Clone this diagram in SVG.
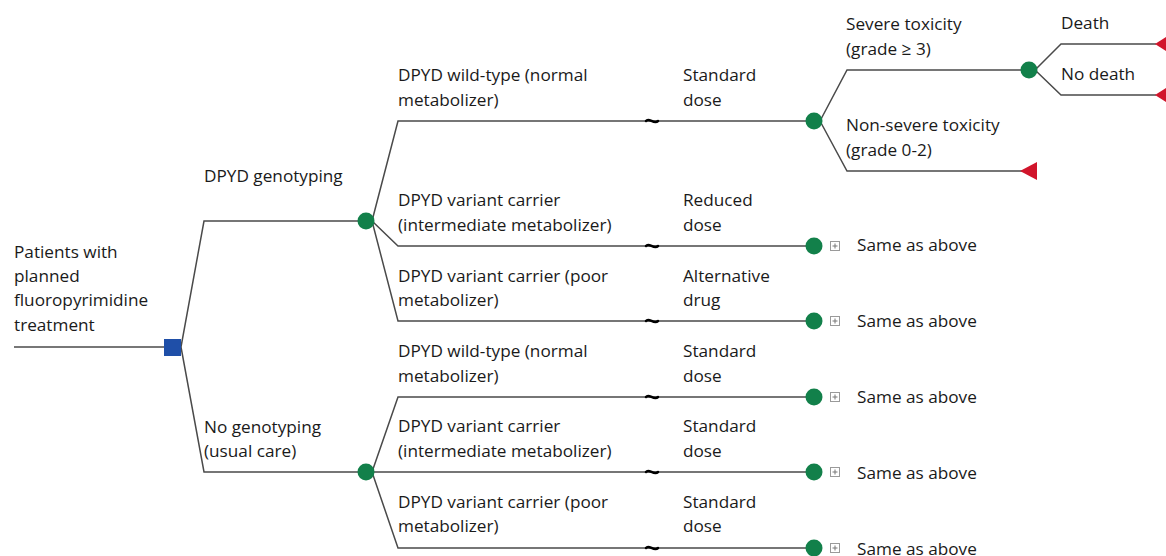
<svg xmlns="http://www.w3.org/2000/svg" width="1166" height="556" viewBox="0 0 1166 556">
<style>
.l{fill:none;stroke:#4a4a4a;stroke-width:1.5}
.c{fill:#12804a}
.t{fill:#d1152b}
.pb{fill:#fff;stroke:#9a9a9a;stroke-width:1}
.pl{stroke:#777;stroke-width:1}
text{font-family:"Open Sans","Noto Sans",sans-serif;font-size:17.2px;fill:#1a1a1a}
</style>
<defs>
<g id="plus"><rect class="pb" x="-4.5" y="-4.5" width="9" height="9"/><path class="pl" d="M-2.5,0H2.5M0,-2.5V2.5"/></g>
</defs>
<g id="connectors">
<path class="l" d="M14,347H164"/>
<path class="l" d="M181,347L204,221H360M181,347L204,472H360"/>
<path class="l" d="M372,221L398,121H808M372,221L398,246H808M372,221L398,321H808"/>
<path class="l" d="M372,472L398,397H808M372,472L398,472H808M372,472L398,548H808"/>
<path class="l" d="M820,121L847,70H1023M820,121L847,171H1022"/>
<path class="l" d="M1035,70L1061,44H1156M1035,70L1061,95H1156"/>
<g fill="none" stroke="#000" stroke-width="2.5" stroke-linecap="round">
<path d="M646,121 C649,117 654,125 658,121"/>
<path d="M646,246 C649,242 654,250 658,246"/>
<path d="M646,321 C649,317 654,325 658,321"/>
<path d="M646,397 C649,393 654,401 658,397"/>
<path d="M646,472 C649,468 654,476 658,472"/>
<path d="M646,548 C649,544 654,552 658,548"/>
</g>
</g>
<g id="root"><rect x="164" y="339" width="17" height="17" fill="#1f4fa8"/>
<text x="14" y="258">Patients with</text><text x="14" y="282">planned</text><text x="14" y="306">fluoropyrimidine</text><text x="14" y="331">treatment</text></g>
<g id="geno"><circle class="c" cx="366" cy="221" r="8.5"/><text x="204" y="182">DPYD genotyping</text></g>
<g id="nogeno"><circle class="c" cx="366" cy="472" r="8.5"/><text x="204" y="433">No genotyping</text><text x="204" y="457">(usual care)</text></g>
<g id="g1"><circle class="c" cx="814" cy="121" r="8.5"/><text x="398" y="81">DPYD wild-type (normal</text><text x="398" y="106">metabolizer)</text><text x="683" y="81">Standard</text><text x="683" y="106">dose</text></g>
<g id="tox"><circle class="c" cx="1029" cy="70" r="8.5"/><text x="846" y="30">Severe toxicity</text><text x="846" y="55">(grade ≥ 3)</text></g>
<g id="death"><path class="t" d="M1166,37V51L1155,44Z"/><text x="1061" y="29">Death</text></g>
<g id="nodeath"><path class="t" d="M1166,88V102L1155,95Z"/><text x="1061" y="80">No death</text></g>
<g id="nonsev"><path class="t" d="M1037,162V180L1020,171Z"/><text x="846" y="131">Non-severe toxicity</text><text x="846" y="156">(grade 0-2)</text></g>
<g id="g2"><circle class="c" cx="814" cy="246" r="8.5"/><use href="#plus" x="835" y="246"/><text x="398" y="206">DPYD variant carrier</text><text x="398" y="231">(intermediate metabolizer)</text><text x="683" y="206">Reduced</text><text x="683" y="231">dose</text><text x="857" y="251">Same as above</text></g>
<g id="g3"><circle class="c" cx="814" cy="321" r="8.5"/><use href="#plus" x="835" y="321"/><text x="398" y="282">DPYD variant carrier (poor</text><text x="398" y="306">metabolizer)</text><text x="683" y="282">Alternative</text><text x="683" y="306">drug</text><text x="857" y="327">Same as above</text></g>
<g id="n1"><circle class="c" cx="814" cy="397" r="8.5"/><use href="#plus" x="835" y="397"/><text x="398" y="357">DPYD wild-type (normal</text><text x="398" y="382">metabolizer)</text><text x="683" y="357">Standard</text><text x="683" y="382">dose</text><text x="857" y="403">Same as above</text></g>
<g id="n2"><circle class="c" cx="814" cy="472" r="8.5"/><use href="#plus" x="835" y="472"/><text x="398" y="432">DPYD variant carrier</text><text x="398" y="457">(intermediate metabolizer)</text><text x="683" y="432">Standard</text><text x="683" y="457">dose</text><text x="857" y="479">Same as above</text></g>
<g id="n3"><circle class="c" cx="814" cy="548" r="8.5"/><use href="#plus" x="835" y="548"/><text x="398" y="508">DPYD variant carrier (poor</text><text x="398" y="532">metabolizer)</text><text x="683" y="508">Standard</text><text x="683" y="532">dose</text><text x="857" y="555">Same as above</text></g>
</svg>
